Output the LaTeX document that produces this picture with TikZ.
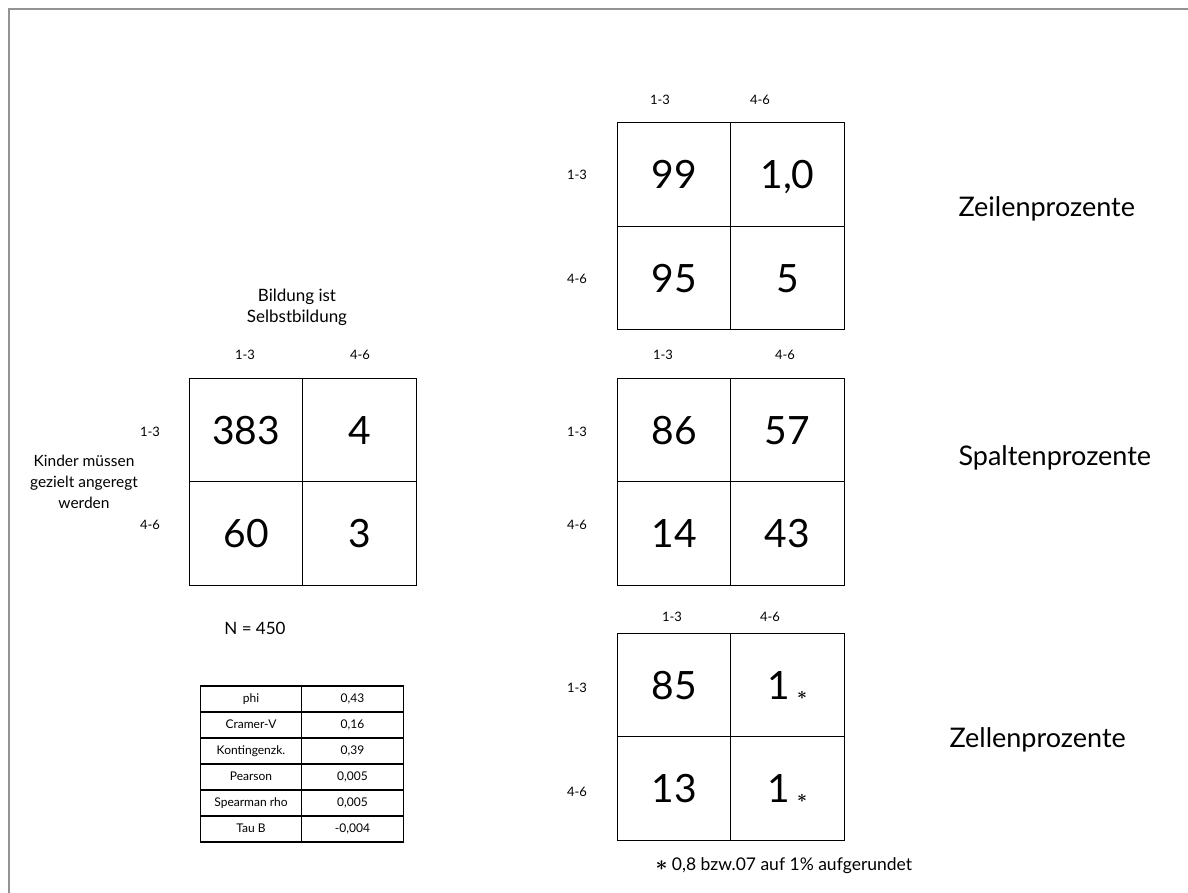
\documentclass[tikz,border=0pt]{standalone}
\usepackage{fontspec}
\setmainfont{Lato}
\usepackage{amsmath}
\usetikzlibrary{positioning}

\begin{document}
\begin{tikzpicture}[x=1pt, y=-1pt, node distance={0pt},
  cell/.style = {draw, line width=1.4pt, outer sep=0pt, minimum width=113.5pt, minimum height=103.5pt, inner sep=0pt, text height=28pt, text depth=0pt, font=\fontsize{39}{39}\selectfont},
  stat/.style = {draw, line width=1.2pt, outer sep=0pt, minimum width=101.5pt, minimum height=26pt, inner sep=0pt, text height=9pt, text depth=2.5pt, font=\fontsize{12}{12}\selectfont},
  lab/.style = {font=\fontsize{13}{13}\selectfont},
  txt/.style = {font=\fontsize{17}{21}\selectfont, align=center},
  big/.style = {font=\fontsize{27}{27}\selectfont, anchor=west}]
\useasboundingbox (0,0) rectangle (1188,893);
\draw[gray!85, line width=1.6pt] (9,893) -- (9,9) -- (1188,9);

% Bildung ist Selbstbildung
\node[cell] (k11) at (246,430) {383};
\node[cell] (k12) [right=of k11] {4};
\node[cell] (k21) [below=of k11] {60};
\node[cell] (k22) [right=of k21] {3};
\node[txt] (kt) at (297,307) {Bildung ist\\Selbstbildung};
\node[lab] (kc1) at (245,355) {1-3};
\node[lab] (kc2) at (360,355) {4-6};
\node[lab] (kr1) at (150,432) {1-3};
\node[lab] (kr2) at (150,525) {4-6};
\node[txt, font=\fontsize{15.5}{21}\selectfont] (kl) at (84,482) {Kinder müssen\\gezielt angeregt\\werden};
\node[txt] (n) at (255,628) {N = 450};

% Zeilenprozente
\node[cell] (z11) at (674,174.5) {99};
\node[cell] (z12) [right=of z11] {1,0};
\node[cell] (z21) [below=of z11] {95};
\node[cell] (z22) [right=of z21] {5};
\node[lab] (zc1) at (660,100) {1-3};
\node[lab] (zc2) at (760,100) {4-6};
\node[lab] (zr1) at (577,175) {1-3};
\node[lab] (zr2) at (577,279) {4-6};
\node[big] (zt) at (955,209) {Zeilenprozente};

% Spaltenprozente
\node[cell] (s11) at (674,430) {86};
\node[cell] (s12) [right=of s11] {57};
\node[cell] (s21) [below=of s11] {14};
\node[cell] (s22) [right=of s21] {43};
\node[lab] (sc1) at (663,355) {1-3};
\node[lab] (sc2) at (785,355) {4-6};
\node[lab] (sr1) at (577,432) {1-3};
\node[lab] (sr2) at (577,525) {4-6};
\node[big] (st) at (955,458) {Spaltenprozente};

% Zellenprozente
\node[cell] (c11) at (674,685) {85};
\node[cell] (c12) [right=of c11] {1\,{\fontsize{17}{17}\selectfont$\boldsymbol{\ast}$}};
\node[cell] (c21) [below=of c11] {13};
\node[cell] (c22) [right=of c21] {1\,{\fontsize{17}{17}\selectfont$\boldsymbol{\ast}$}};
\node[lab] (cc1) at (672,617) {1-3};
\node[lab] (cc2) at (770,617) {4-6};
\node[lab] (cr1) at (577,688) {1-3};
\node[lab] (cr2) at (577,792) {4-6};
\node[big] (ct) at (946,740) {Zellenprozente};
\node[font=\fontsize{17.5}{17.5}\selectfont, anchor=west] (fn) at (652,866) {{\fontsize{22}{17}\selectfont$\boldsymbol{\ast}$} 0,8 bzw.07 auf 1\% aufgerundet};

% Masszahlen
\node[stat] (t1) at (251,699) {phi};
\node[stat] (v1) [right=of t1] {0,43};
\node[stat] (t2) [below=of t1] {Cramer-V};
\node[stat] (v2) [right=of t2] {0,16};
\node[stat] (t3) [below=of t2] {Kontingenzk.};
\node[stat] (v3) [right=of t3] {0,39};
\node[stat] (t4) [below=of t3] {Pearson};
\node[stat] (v4) [right=of t4] {0,005};
\node[stat] (t5) [below=of t4] {Spearman rho};
\node[stat] (v5) [right=of t5] {0,005};
\node[stat] (t6) [below=of t5] {Tau B};
\node[stat] (v6) [right=of t6] {-0,004};
\end{tikzpicture}
\end{document}
